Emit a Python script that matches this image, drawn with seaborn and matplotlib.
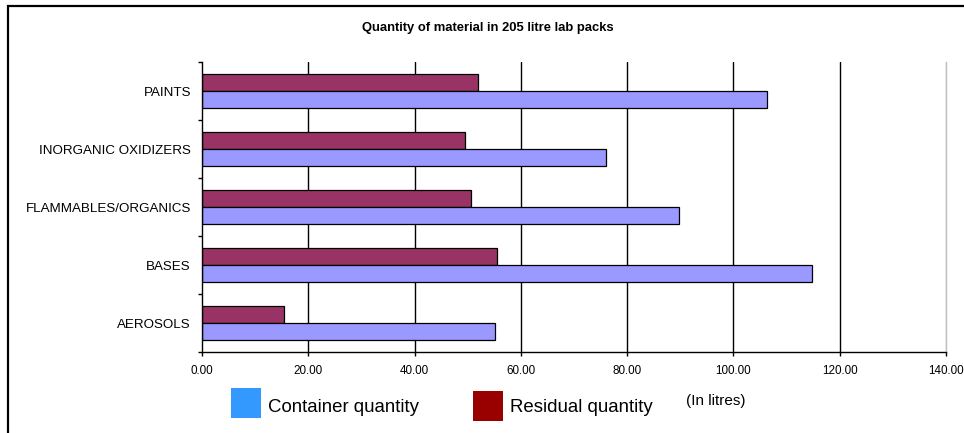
import matplotlib
matplotlib.use("Agg")
import matplotlib.pyplot as plt
from matplotlib.patches import Rectangle
from matplotlib.ticker import FormatStrFormatter, FixedLocator
import numpy as np
import pandas as pd
import seaborn as sns

# Quantities per lab-pack category (litres)
categories = ["PAINTS", "INORGANIC OXIDIZERS", "FLAMMABLES/ORGANICS", "BASES", "AEROSOLS"]
container_qty = [106.3, 76.0, 89.7, 114.7, 55.2]
residual_qty = [52.0, 49.5, 50.6, 55.6, 15.4]
series_names = ["Residual quantity", "Container quantity"]
x_ticks = [0, 20, 40, 60, 80, 100, 120, 140]

bar_colors = {"Residual quantity": "#993366", "Container quantity": "#9999FF"}
legend_colors = {"Container quantity": "#3399FF", "Residual quantity": "#990000"}

df = pd.DataFrame({
    "category": categories * 2,
    "series": ["Residual quantity"] * len(categories) + ["Container quantity"] * len(categories),
    "litres": residual_qty + container_qty,
})

sns.set_theme(style="white")
plt.rcParams["font.family"] = ["Liberation Sans", "DejaVu Sans"]

W, H = 964, 433
fig = plt.figure(figsize=(W / 100, H / 100), dpi=100)
ax = fig.add_axes([202 / W, 1 - 352 / H, (946 - 202) / W, (352 - 62) / H])

sns.barplot(data=df, y="category", x="litres", hue="series", order=categories,
            hue_order=series_names, palette=bar_colors, orient="h", width=0.58,
            edgecolor="black", linewidth=0.9, saturation=1, legend=False, ax=ax)

ax.set_xlim(0, 140)
ax.set_ylim(len(categories) - 0.5, -0.5)
ax.set_xticks(x_ticks)
ax.xaxis.set_major_formatter(FormatStrFormatter("%.2f"))
ax.set_xlabel("")
ax.set_ylabel("")

# Vertical gridlines
ax.set_axisbelow(True)
ax.xaxis.grid(True, color="black", linewidth=1.0)
ax.yaxis.grid(False)
grid_lines = ax.get_xgridlines()
grid_lines[0].set_visible(False)
grid_lines[-1].set_color("#c0c0c0")

for side in ["left", "bottom"]:
    ax.spines[side].set_color("black")
    ax.spines[side].set_linewidth(1.0)
ax.spines["top"].set_visible(False)
ax.spines["right"].set_color("#c0c0c0")
ax.spines["right"].set_linewidth(1.0)

ax.tick_params(axis="x", which="major", direction="out", length=3, width=1,
               color="black", labelsize=8.4, pad=6, bottom=True)
ax.tick_params(axis="y", which="major", length=0, labelsize=9.6, pad=8)
ax.yaxis.set_minor_locator(FixedLocator(np.arange(-0.5, len(categories), 1.0)))
ax.tick_params(axis="y", which="minor", direction="out", length=3, width=1,
               color="black", left=True)
for lbl in ax.get_yticklabels() + ax.get_xticklabels():
    lbl.set_color("black")

# Title
fig.text(0.506, 1 - 28 / H, "Quantity of material in 205 litre lab packs",
         ha="center", va="center", fontsize=9.4, fontweight="bold", color="black")

# Legend drawn below the axis
def legend_entry(x0, y0, name, text_x):
    fig.add_artist(Rectangle((x0 / W, 1 - (y0 + 30) / H), 30 / W, 30 / H,
                             transform=fig.transFigure, facecolor=legend_colors[name],
                             edgecolor="none"))
    fig.text(text_x / W, 1 - 408 / H, name, ha="left", va="center",
             fontsize=13.4, color="black")

legend_entry(231, 388, "Container quantity", 268)
legend_entry(473, 391, "Residual quantity", 510)
fig.text(716 / W, 1 - 401 / H, "(In litres)", ha="center", va="center",
         fontsize=11, color="black")

# Chart border
fig.add_artist(Rectangle((8 / W, -0.1), 1.2, 1 - 6 / H + 0.1, transform=fig.transFigure,
                         facecolor="none", edgecolor="black", linewidth=1.6))

fig.savefig("out.png", dpi=100)
